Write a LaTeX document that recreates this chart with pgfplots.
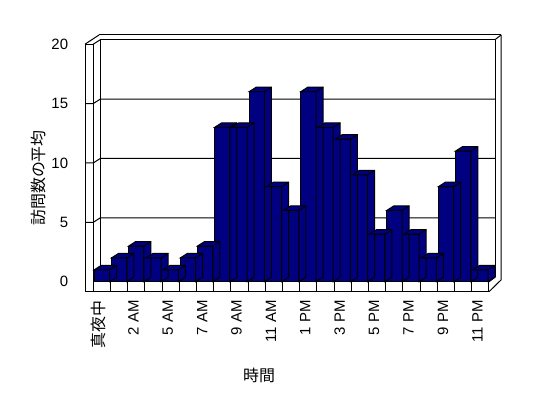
\documentclass[border=0pt]{standalone}
\usepackage{pgfplots}
\usepackage{pgfplotstable}
\pgfplotsset{compat=1.18}
\usepackage{fontspec}
\setmainfont{Liberation Sans}
\newfontfamily\jp{Noto Sans CJK JP}
\definecolor{barblue}{RGB}{0,0,128}

\pgfplotstableread{
x y
0 1
1 2
2 3
3 2
4 1
5 2
6 3
7 13
8 13
9 16
10 8
11 6
12 16
13 13
14 12
15 9
16 4
17 6
18 4
19 2
20 8
21 11
22 1
}\visits

% 3D top and side of a bar; origin = top centre of the front face
\pgfdeclareplotmark{box3d}{%
  \pgfmathsetmacro{\hh}{\vy*11.875}%
  \pgfpathmoveto{\pgfqpoint{-7.65bp}{0bp}}%
  \pgfpathlineto{\pgfqpoint{-0.65bp}{4.5bp}}%
  \pgfpathlineto{\pgfqpoint{14.65bp}{4.5bp}}%
  \pgfpathlineto{\pgfpoint{14.65bp}{4.5bp-\hh bp}}%
  \pgfpathlineto{\pgfpoint{7.65bp}{-\hh bp}}%
  \pgfpathlineto{\pgfqpoint{7.65bp}{0bp}}%
  \pgfpathclose
  \pgfusepathqfillstroke
  \pgfpathmoveto{\pgfqpoint{7.65bp}{0bp}}%
  \pgfpathlineto{\pgfqpoint{14.65bp}{4.5bp}}%
  \pgfusepathqstroke
}

\begin{document}
\begin{tikzpicture}
\path[use as bounding box] (0,0) rectangle (548bp,398bp);
\begin{scope}[x=1bp,y=-1bp,yshift=398bp,line width=1bp]
  % left wall
  \draw (85,44.2) -- (85,291.7);
  \draw (93.3,44.2) -- (93.3,291.7);
  \draw (85,44.2) -- (93.3,44.2);
  \draw (85,44.2) -- (99,35);
  \draw (93.3,44.2) -- (100.3,39.7);
  % back wall
  \draw (99,35) -- (501,35);
  \draw (100.3,39.7) -- (495,39.7);
  \draw (100.3,39.7) -- (100.3,277.2);
  \draw (495,39.7) -- (495,277.2);
  \draw (495,39.7) -- (501,35);
  \draw (501,35) -- (501,280) -- (489,291.7);
  % gridlines
  \foreach \v in {5,10,15}{
    \pgfmathsetmacro{\fy}{281.7-\v*11.875}
    \pgfmathsetmacro{\by}{\fy-4.5}
    \draw (85,\fy) -- (93.3,\fy) -- (100.3,\by) -- (495,\by);
  }
  % floor
  \draw (93.3,281.7) -- (489,281.7);
  \draw (85,291.7) -- (489,291.7);
  \draw (489,281.7) -- (495,277.2);
  \foreach \k in {0,...,23}{
    \pgfmathsetmacro{\dx}{93.3+\k*17.2043}
    \draw (\dx,281.7) -- (\dx,291.7);
  }
  % axis titles
  \node[font=\jp\fontsize{16}{18}\selectfont] at (259,375.5) {時間};
  \node[font=\jp\fontsize{16}{18}\selectfont,rotate=90] at (38,178) {訪問数の平均};
\end{scope}
\begin{axis}[
  at={(93.3bp,116.3bp)}, anchor=south west,
  scale only axis, width=395.7bp, height=237.5bp,
  xmin=-0.5, xmax=22.5, ymin=0, ymax=20,
  enlargelimits=false, clip=false,
  axis line style={draw=none}, tick style={draw=none},
  major tick length=0pt,
  xtick={0,2,...,22},
  xticklabels={{\jp\fontsize{16}{18}\selectfont 真夜中},2 AM,5 AM,7 AM,9 AM,11 AM,1 PM,3 PM,5 PM,7 PM,9 PM,11 PM},
  ytick={0,5,...,20},
  /pgf/number format/assume math mode=true,
  xticklabel style={font=\fontsize{15}{17}\selectfont, inner sep=0pt, anchor=east, xshift=-3bp, yshift=-18.3bp, rotate=90},
  yticklabel style={font=\fontsize{15}{17}\selectfont, inner sep=0pt, anchor=east, xshift=-25bp},
]
\addplot[scatter, only marks, mark=box3d, line width=1bp,
  scatter/use mapped color={draw=black, fill=barblue},
  visualization depends on={rawy \as \vy}] table[x=x,y=y] {\visits};
\addplot[ybar, bar width=15.3bp, bar shift=0pt, fill=barblue, draw=black, line width=1bp] table[x=x,y=y] {\visits};
\end{axis}
\end{tikzpicture}
\end{document}
